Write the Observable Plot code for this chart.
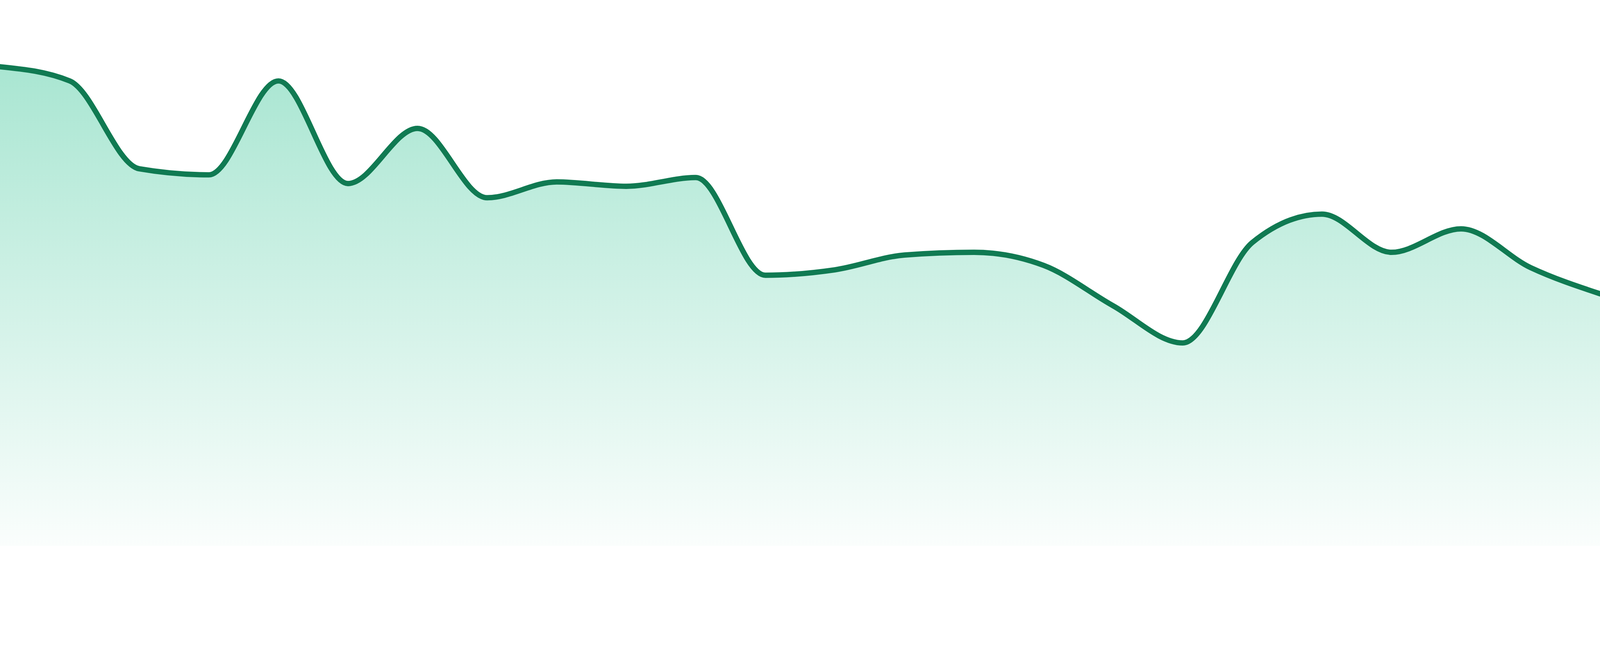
<!DOCTYPE html>
<html>
<head>
<meta charset="utf-8">
<script src="https://cdn.jsdelivr.net/npm/d3@7"></script>
<script src="https://cdn.jsdelivr.net/npm/@observablehq/plot@0.6"></script>
<style>
  html, body { margin: 0; padding: 0; background: #ffffff; overflow: hidden; }
  #chart svg { display: block; }
</style>
</head>
<body>
<div id="chart"></div>
<script>
// Categories: 24 evenly spaced sample positions
const steps = [0, 1, 2, 3, 4, 5, 6, 7, 8, 9, 10, 11, 12, 13, 14, 15, 16, 17, 18, 19, 20, 21, 22, 23];
// Series values (on a 0–100 scale)
const values = [87.8, 85.2, 69.1, 68.0, 85.2, 66.4, 76.5, 63.8, 66.7, 65.9, 67.5, 49.6,
                50.6, 53.3, 53.8, 51.4, 44.0, 37.2, 55.6, 60.8, 53.8, 58.1, 51.0, 46.2];
const yDomain = [0, 100];

const data = steps.map((s, i) => ({step: s, value: values[i]}));

const gradientDefs = () => {
  const defs = d3.create("svg:defs");
  const g = defs.append("linearGradient")
    .attr("id", "fadeGreen")
    .attr("x1", 0).attr("y1", 0).attr("x2", 0).attr("y2", 1);
  g.append("stop").attr("offset", "0%").attr("stop-color", "#10b981").attr("stop-opacity", 0.36);
  g.append("stop").attr("offset", "100%").attr("stop-color", "#10b981").attr("stop-opacity", 0.02);
  return defs.node();
};

const chart = Plot.plot({
  width: 4800,
  height: 1680,
  marginTop: 0,
  marginRight: 0,
  marginBottom: 42,
  marginLeft: 0,
  style: {background: "#ffffff", overflow: "visible"},
  x: {domain: [steps[0], steps[steps.length - 1]], axis: null},
  y: {domain: yDomain, axis: null},
  marks: [
    gradientDefs,
    Plot.areaY(data, {x: "step", y: "value", curve: "monotone-x", fill: "url(#fadeGreen)"}),
    Plot.line(data, {x: "step", y: "value", curve: "monotone-x", stroke: "#107a52", strokeWidth: 16})
  ]
});
document.getElementById("chart").appendChild(chart);
</script>
</body>
</html>
